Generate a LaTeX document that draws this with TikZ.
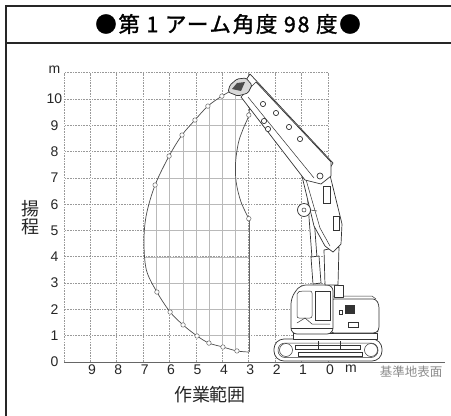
\documentclass[tikz,border=0pt]{standalone}
\usepackage{fontspec}
\setmainfont{Liberation Sans}
\newfontfamily\jp{Noto Sans CJK JP}
\newfontfamily\jpb[FakeBold=1.3,LetterSpace=8]{Noto Sans CJK JP}
\begin{document}
\begin{tikzpicture}[x=1pt,y=-1pt,
  frame/.style={line width=1.6pt,black!85},
  gridd/.style={gray!80,line width=0.7pt,dash pattern=on 1.6pt off 1.1pt},
  grids/.style={gray!55,line width=0.5pt},
  env/.style={black!70,line width=0.7pt},
  envpt/.style={circle,draw=black!60,fill=white,line width=0.5pt,inner sep=0pt,minimum size=4.5pt},
  mach/.style={black!80,line width=0.7pt,fill=white,line join=round},
  machl/.style={black!80,line width=0.5pt},
  num/.style={font=\fontsize{14}{14}\selectfont,text=black!85,inner sep=0pt},
  jlab/.style={font=\jp\fontsize{18}{18}\selectfont,text=black!85,inner sep=0pt},
]
\useasboundingbox (0,0) rectangle (451,416);
\fill[white] (0,0) rectangle (451,416);
% frame and title
\draw[frame] (451,6) -- (6,6) -- (6,416);
\draw[frame] (6,43) -- (451,43);
\node[font=\jpb\fontsize{21.5}{21.5}\selectfont, inner sep=0pt] (title) at (228,24) {●第 1 アーム角度 98 度●};

% chart in metres
\begin{scope}[shift={(328,362)}, x={(-26.4pt,0pt)}, y={(0pt,26.3pt)}]
  \foreach \i in {0,...,10} \draw[gridd] (\i,0) -- (\i,11);
  \foreach \j in {1,...,11} \draw[gridd] (0,\j) -- (10,\j);
  \def\envpath{plot[smooth,tension=0.55] coordinates {(3.0,10.75) (3.35,10.5) (4.02,10.11) (4.55,9.73) (5.04,9.2) (5.53,8.63) (6.02,7.83) (6.55,6.73) (6.88,5.6) (6.97,4.6) (6.88,3.5) (6.48,2.66) (5.98,1.90) (5.49,1.41) (4.96,0.99) (4.51,0.72) (3.98,0.57) (3.45,0.42) (3.0,0.38)}
    -- (3.0,5.45) -- plot[smooth,tension=0.55] coordinates {(3.0,5.45) (3.3,6.1) (3.48,6.85) (3.5,7.6) (3.39,8.35) (3.2,8.9) (3.0,9.39) (2.97,10.0) (3.0,10.75)}}
  \begin{scope}
    \clip \envpath -- cycle;
    \foreach \i in {3.5,4,...,7} \draw[grids] (\i,0) -- (\i,11);
    \foreach \j in {1,...,10} \draw[grids] (0,\j) -- (10,\j);
  \end{scope}
  \draw[env] plot[smooth,tension=0.55] coordinates {(3.0,10.75) (3.35,10.5) (4.02,10.11) (4.55,9.73) (5.04,9.2) (5.53,8.63) (6.02,7.83) (6.55,6.73) (6.88,5.6) (6.97,4.6) (6.88,3.5) (6.48,2.66) (5.98,1.90) (5.49,1.41) (4.96,0.99) (4.51,0.72) (3.98,0.57) (3.45,0.42) (3.0,0.38)};
  \draw[env] plot[smooth,tension=0.55] coordinates {(3.0,5.45) (3.3,6.1) (3.48,6.85) (3.5,7.6) (3.39,8.35) (3.2,8.9) (3.0,9.39) (2.97,10.0) (3.0,10.75)};
  \draw[black!60,line width=0.6pt] (3.0,0.38) -- (3.0,5.45);
  \foreach \p [count=\k] in {(4.02,10.11),(4.55,9.73),(5.04,9.2),(5.53,8.63),(6.02,7.83),(6.55,6.73),(6.48,2.66),(5.98,1.90),(5.49,1.41),(4.96,0.99),(4.51,0.72),(3.98,0.57),(3.45,0.42),(3.0,9.39),(3.0,5.45)}
    \node[envpt] (p\k) at \p {};
  % ground
  \draw[gray!80!black,line width=0.8pt] (10,0) -- (-4.45,0);
\end{scope}

% axis labels
\node[num] (ym) at (54.5,69.5) {m};
\foreach \v in {0,...,10} \node[num] (y\v) at (54.5,{362-26.3*\v}) {\v};
\foreach \v in {1,...,9} \node[num] (x\v) at ({328-26.4*\v+1.5},370) {\v};
\node[num] (x0) at (330,370) {0};
\node[num] (xm) at (351,369) {m};
\node[jlab] (ylab1) at (30,209) {揚};
\node[jlab] (ylab2) at (30,227) {程};
\node[jlab] (xlab) at (210,395) {作業範囲};
\node[font=\jp\fontsize{12.5}{12.5}\selectfont,text=gray!90,inner sep=0pt] (gl) at (411,372) {基準地表面};

% excavator
% tracks
\draw[mach, rounded corners=10pt] (274,339) rectangle (382,361);
\draw[machl, rounded corners=7pt] (278,343) rectangle (378,357.5);
\draw[machl] (286,350) circle (6.5);
\draw[machl] (371,350) circle (6.5);
\draw[machl] (295,345) rectangle (360,349);
\draw[machl] (298,352) rectangle (362,356);
\draw[machl] (318,341) -- (318,350);
\draw[machl] (340,341) -- (340,350);
\draw[mach] (293,333) rectangle (377,339);
% engine body
\draw[mach, rounded corners=3pt] (331,299) -- (376,299) -- (379,305) -- (379,330) -- (376,333) -- (331,333) -- cycle;
\fill[black!80] (345,305) rectangle (355,314);
\draw[machl] (339,310) rectangle (342,314);
\draw[machl] (348,322) rectangle (358,327);
\draw[machl] (331,300) -- (331,296) -- (372,296) -- (376,299);
\draw[mach] (334,285) rectangle (343,297);
% cab
\draw[mach, rounded corners=6pt] (291,334) -- (291,298) -- (300,285) -- (333,285) -- (333,334) -- cycle;
\draw[machl, rounded corners=2pt] (297,292) -- (297,318) -- (312,318) -- (312,291) -- (302,291) -- cycle;
\draw[machl] (315,291) rectangle (330,320);
\draw[machl] (297,323) -- (305,318) -- (312,324) -- (330,324);
\draw[machl] (291,328) -- (333,328);
% boom foot and cylinder
\draw[mach] (324,250) -- (339,247) -- (338,285) -- (325,285) -- cycle;
\draw[mach] (306,176) -- (311,176) -- (317,258) -- (312,258) -- cycle;
\draw[mach] (311,257) -- (319,256) -- (321,283) -- (313,284) -- cycle;
% boom middle
\draw[mach] (301,172) -- (328,167) -- (342,224) -- (341,244) -- (333,252) -- (325,246) -- (314,226) -- cycle;
\draw[machl] (323,186) rectangle (330,203);
\draw[machl] (333,216) rectangle (339,230);
\draw[machl] (305,176) -- (320,228) -- (330,246);
% pivot wheel
\draw[mach] (304,210) circle (6.5);
\draw[machl] (304,210) circle (2);
\draw[machl] (310.5,210) -- (317,211);
% arm
\draw[mach] (246,80) -- (250,74) -- (333,163) -- (330,168) -- cycle;
\draw[mach] (241,97) -- (256,82) -- (331,162) -- (331,176) -- (321,184) -- (305,180) -- cycle;
\draw[machl] (248,97) -- (314,178);
\foreach \c in {(263,104),(276,113),(264,121),(300,139),(268,129),(289,127)}
  \draw[mach] \c circle (2.6);
\draw[mach] (320,176) circle (3);
% bucket
\draw[mach, fill=gray!30, rounded corners=1.5pt] (228,92) -- (230,85) -- (237,79) -- (246,78) -- (252,85) -- (248,93) -- (238,96) -- cycle;
\fill[black!70] (232,89) -- (237,83) -- (245,82) -- (241,91) -- cycle;
\end{tikzpicture}
\end{document}
